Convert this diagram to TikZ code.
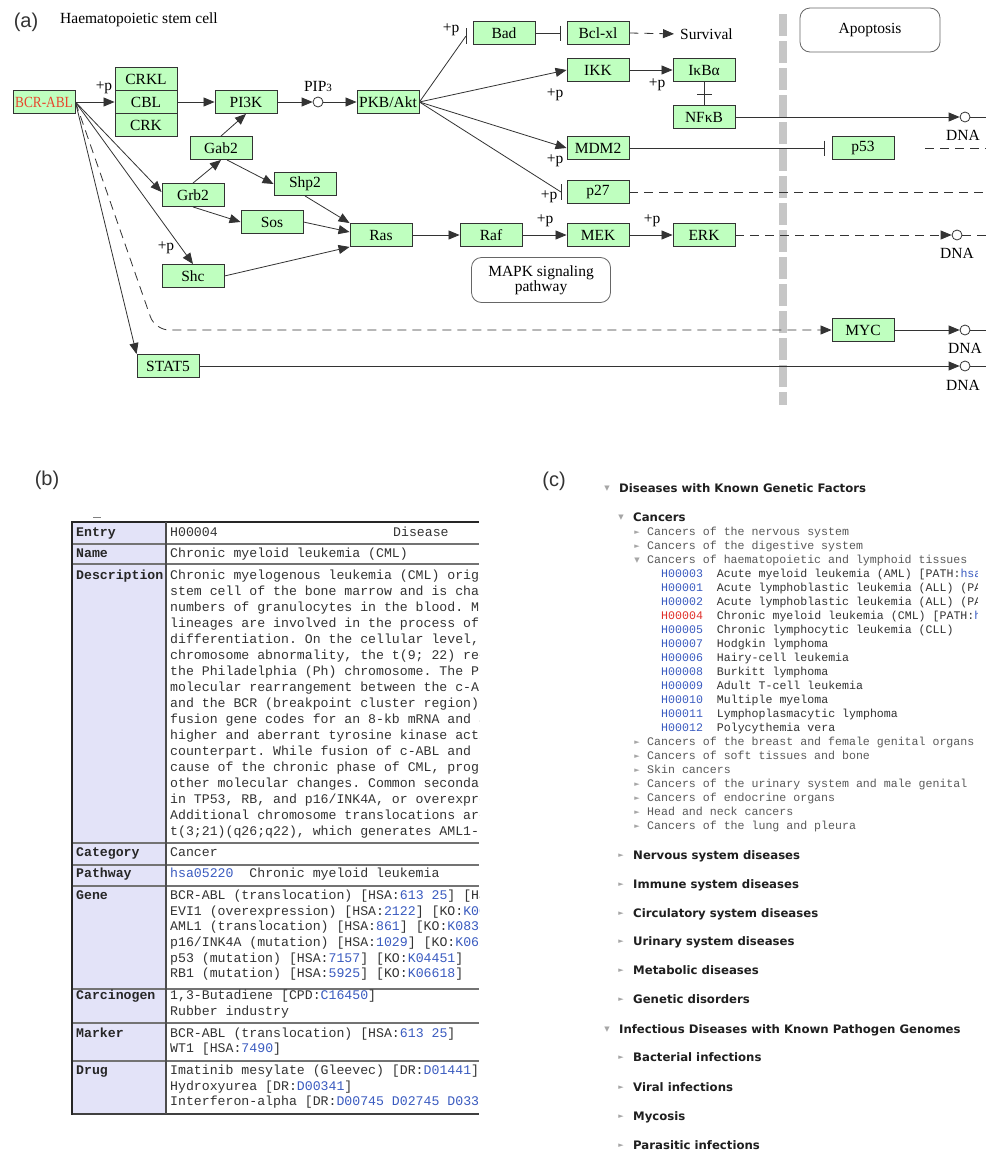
\documentclass[tikz,border=0pt]{standalone}
\usepackage{fontspec}
\usepackage{graphicx}
\usetikzlibrary{arrows.meta,calc}
\newfontfamily\keggfont{Liberation Serif}
\newfontfamily\panelfont{Liberation Sans}
\newfontfamily\monofont{Liberation Mono}
\newfontfamily\treefont{DejaVu Sans}
\definecolor{keggreen}{HTML}{BFFFBF}
\definecolor{linkblue}{HTML}{3A5BC0}
\definecolor{headfill}{HTML}{E3E3F8}
\definecolor{bargray}{HTML}{C6C6C6}
\definecolor{treegray}{HTML}{5A5A5A}
\definecolor{inkgray}{HTML}{333333}
\definecolor{bcrred}{HTML}{E8452C}
\definecolor{hitred}{HTML}{E0302A}
\newcommand\lk[1]{\textcolor{linkblue}{#1}}
\frenchspacing
\tikzset{
  gene/.style={draw=inkgray, fill=keggreen, line width=0.9pt, minimum width=62pt,
    minimum height=23pt, inner sep=0pt, font=\keggfont\fontsize{15.5}{17}\selectfont},
  link/.style={draw=inkgray, line width=0.8pt},
  act/.style={link, -{Triangle[length=11pt,width=9pt]}},
  inh/.style={link, -{Bar[width=15pt,line width=0.9pt]}},
  dlink/.style={dash pattern=on 9pt off 6pt},
  lbl/.style={inner sep=0pt, font=\keggfont\fontsize{15.5}{17}\selectfont},
  cpd/.style={circle, draw=inkgray, fill=white, line width=0.8pt, minimum size=10pt, inner sep=0pt},
  mapbox/.style={draw=gray!80!black, rounded corners=10pt, line width=0.8pt, align=center,
    font=\keggfont\fontsize{15.5}{14}\selectfont},
  panel/.style={inner sep=0pt, font=\panelfont\fontsize{20}{22}\selectfont, text=black!80},
  thd/.style={anchor=west, inner sep=0pt, font=\monofont\bfseries\fontsize{13.2}{15}\selectfont,
    text=black!85, text height=8pt, text depth=2.5pt},
  tcell/.style={anchor=west, inner sep=0pt, font=\monofont\fontsize{13.2}{15}\selectfont,
    text=black!80, text height=8pt, text depth=2.5pt},
  thead/.style={anchor=west, inner sep=0pt, font=\treefont\bfseries\fontsize{11.7}{13}\selectfont,
    text=black!88, text height=8.5pt, text depth=2.5pt},
  titem/.style={anchor=west, inner sep=0pt, font=\monofont\fontsize{11.6}{13}\selectfont,
    text=treegray, text height=7.5pt, text depth=2.5pt},
  tid/.style={titem, text=black!80},
  tmark/.style={inner sep=0pt, font=\treefont\fontsize{7}{7}\selectfont, text=gray!70},
}
\begin{document}
\begin{tikzpicture}[x=1pt,y=-1pt]
\fill[white] (0,0) rectangle (986,1151);
\useasboundingbox (0,0) rectangle (986,1151);

%% ================= Panel (a): CML pathway =================
\node[panel] (labA) at (26,22) {(a)};
\node[lbl, anchor=west] (cell) at (60,20) {Haematopoietic stem cell};

% cell boundary (nucleus side on the right)
\draw[bargray, line width=8pt, dash pattern=on 22pt off 5pt] (783,14) -- (783,405);

\node[mapbox, minimum width=140pt, minimum height=44pt] (apop) at (870,30) {Apoptosis};
\node[mapbox, minimum width=139pt, minimum height=45pt] (mapk) at (541,280) {MAPK signaling\\pathway};

% gene products
\node[gene] (bcr) at (44,102) {\textcolor{bcrred}{\scalebox{0.86}[1]{BCR-ABL}}};
\node[gene] (crkl) at (146,79) {CRKL};
\node[gene] (cbl) at (146,102) {CBL};
\node[gene] (crk) at (146,125) {CRK};
\node[gene] (pi3k) at (246,102) {PI3K};
\node[cpd] (pip) at (318,102) {};
\node[lbl] (piplbl) at (318,86) {PIP{\fontsize{11}{11}\selectfont 3}};
\node[gene] (pkb) at (388,102) {PKB/Akt};
\node[gene] (gab2) at (221,148) {Gab2};
\node[gene] (shp2) at (305,184) {Shp2};
\node[gene] (grb2) at (193,195) {Grb2};
\node[gene] (sos) at (272,222) {Sos};
\node[gene] (ras) at (381,235) {Ras};
\node[gene] (shc) at (193,276) {Shc};
\node[gene] (stat5) at (168,366) {STAT5};
\node[gene] (raf) at (491,235) {Raf};
\node[gene] (mek) at (598,235) {MEK};
\node[gene] (erk) at (704,235) {ERK};
\node[gene] (bad) at (504,33) {Bad};
\node[gene] (bcl) at (598,33) {Bcl-xl};
\node[lbl, anchor=west] (surv) at (680,34) {Survival};
\node[gene] (ikk) at (598,70) {IKK};
\node[gene] (ikba) at (704,70) {IκBα};
\node[gene] (nfkb) at (704,117) {NFκB};
\node[gene] (mdm2) at (598,148) {MDM2};
\node[gene] (p53) at (863,148) {p53};
\node[gene] (p27) at (598,192) {p27};
\node[gene] (myc) at (863,330) {MYC};

% DNA targets
\node[cpd] (dnaA) at (965,117) {};
\node[cpd] (dnaB) at (957,235) {};
\node[cpd] (dnaC) at (965,330) {};
\node[cpd] (dnaD) at (965,366) {};
\node[lbl] (dnaAl) at (963,135) {DNA};
\node[lbl] (dnaBl) at (957,253) {DNA};
\node[lbl] (dnaCl) at (965,348) {DNA};
\node[lbl] (dnaDl) at (963,385) {DNA};

% free ends at the right margin
\coordinate (eA) at (986,117);
\coordinate (eB) at (986,235);
\coordinate (eC) at (986,330);
\coordinate (eD) at (986,366);
\coordinate (e53) at (986,148);
\coordinate (s53) at (925,148);
\coordinate (e27) at (986,192);
\coordinate (badbar) at (466,36);
\coordinate (p27bar) at (561,192);
\coordinate (ikbabar) at (704,95);
\coordinate (mycbend) at (155,330);

% phosphorylation labels
\node[lbl] (pA) at (104,88) {+p};
\node[lbl] (pB) at (451,30) {+p};
\node[lbl] (pC) at (555,95) {+p};
\node[lbl] (pD) at (657,85) {+p};
\node[lbl] (pE) at (555,161) {+p};
\node[lbl] (pF) at (549,197) {+p};
\node[lbl] (pG) at (545,221) {+p};
\node[lbl] (pH) at (652,221) {+p};
\node[lbl] (pI) at (166,248) {+p};

% BCR-ABL outputs
\draw[act] (bcr.east) -- (cbl.west);
\draw[act] (bcr.east) -- ([yshift=3pt]grb2.west);
\draw[act] (bcr.east) -- (shc.north);
\draw[act] (bcr.east) -- (stat5.north west);
\draw[act, dlink, rounded corners=14pt] (bcr.east) -- (mycbend) -- (myc.west);

% PI3K branch
\draw[act] (cbl.east) -- (pi3k.west);
\draw[act] (pi3k.east) -- (pip.west);
\draw[act] (pip.east) -- (pkb.west);
\draw[act] (grb2.north) -- (gab2.south);
\draw[act] (gab2.north) -- (pi3k.south);
\draw[act] ([xshift=6pt]gab2.south) -- (shp2.west);

% Ras branch
\draw[act] (grb2.south) -- (sos.west);
\draw[act] (shp2.south) -- (ras.north west);
\draw[act] (sos.east) -- ([yshift=3pt]ras.west);
\draw[act] (shc.east) -- (ras.south west);
\draw[act] (ras.east) -- (raf.west);
\draw[act] (raf.east) -- (mek.west);
\draw[act] (mek.east) -- (erk.west);
\draw[act, dlink] (erk.east) -- (dnaB.west);
\draw[link, dlink] (dnaB.east) -- (eB);

% PKB/Akt targets
\draw[link] (pkb.east) -- (badbar);
\draw[link] ($(badbar)+(0,-8)$) -- ($(badbar)+(0,8)$);
\draw[inh, shorten >=6pt] (bad.east) -- (bcl.west);
\draw[act, dlink, shorten >=6pt] (bcl.east) -- (surv.west);
\draw[act] (pkb.east) -- (ikk.west);
\draw[act] (ikk.east) -- (ikba.west);
\draw[inh] (ikba.south) -- (ikbabar);
\draw[link] (ikbabar) -- (nfkb.north);
\draw[act] (nfkb.east) -- (dnaA.west);
\draw[link] (dnaA.east) -- (eA);
\draw[act] (pkb.east) -- (mdm2.west);
\draw[inh, shorten >=7pt] (mdm2.east) -- (p53.west);
\draw[link, dlink] (s53) -- (e53);
\draw[link] (pkb.east) -- (p27bar);
\draw[link] ($(p27bar)+(0,-8)$) -- ($(p27bar)+(0,8)$);
\draw[link, dlink] (p27.east) -- (e27);

% transcription targets
\draw[act] (myc.east) -- (dnaC.west);
\draw[link] (dnaC.east) -- (eC);
\draw[act] (stat5.east) -- (dnaD.west);
\draw[link] (dnaD.east) -- (eD);

%% ================= Panel (b): disease entry =================
\node[panel] (labB) at (47,480) {(b)};
\draw[gray, line width=1pt] (93,517) -- (101,517);
\begin{scope}
\clip (60,505) rectangle (479,1120);
\fill[headfill] (72,522) rectangle (166,1114);
\foreach \y in {544,564,843,865,886,989,1023,1061}
  \draw[black!55, line width=1.1pt] (72,\y) -- (479,\y);
\draw[black!85, line width=1.6pt] (72,522) -- (479,522);
\draw[black!75, line width=1.2pt] (72,1114) -- (479,1114);
\draw[black!85, line width=2pt] (72,521) -- (72,1115);
\draw[black!70, line width=1.2pt] (166,522) -- (166,1114);

\node[thd] (kEntry) at (76,534) {Entry};
\node[tcell] (vEntry) at (170,534) {H00004};
\node[tcell] (vKind) at (393,534) {Disease};
\node[thd] (kName) at (76,555) {Name};
\node[tcell] (vName) at (170,555) {Chronic myeloid leukemia (CML)};
\node[thd] (kDesc) at (76,577) {Description};
\foreach \t [count=\i from 0] in {
  {Chronic myelogenous leukemia (CML) origi},
  {stem cell of the bone marrow and is char},
  {numbers of granulocytes in the blood. Mu},
  {lineages are involved in the process of },
  {differentiation. On the cellular level, C},
  {chromosome abnormality, the t(9; 22) rec},
  {the Philadelphia (Ph) chromosome. The Ph},
  {molecular rearrangement between the c-AB},
  {and the BCR (breakpoint cluster region) },
  {fusion gene codes for an 8-kb mRNA and a},
  {higher and aberrant tyrosine kinase acti},
  {counterpart. While fusion of c-ABL and B},
  {cause of the chronic phase of CML, progr},
  {other molecular changes. Common secondar},
  {in TP53, RB, and p16/INK4A, or overexpre},
  {Additional chromosome translocations are},
  {t(3;21)(q26;q22), which generates AML1-E}}
  \node[tcell] (desc\i) at (170,{577+16*\i}) {\t};
\node[thd] (kCat) at (76,854) {Category};
\node[tcell] (vCat) at (170,854) {Cancer};
\node[thd] (kPath) at (76,875) {Pathway};
\node[tcell] (vPath) at (170,875) {\lk{hsa05220}~~Chronic myeloid leukemia};
\node[thd] (kGene) at (76,897) {Gene};
\node[tcell] (g0) at (170,897) {BCR-ABL (translocation) [HSA:\lk{613 25}] [HS};
\node[tcell] (g1) at (170,912.6) {EVI1 (overexpression) [HSA:\lk{2122}] [KO:\lk{K00}};
\node[tcell] (g2) at (170,928.2) {AML1 (translocation) [HSA:\lk{861}] [KO:\lk{K0838}};
\node[tcell] (g3) at (170,943.8) {p16/INK4A (mutation) [HSA:\lk{1029}] [KO:\lk{K062}};
\node[tcell] (g4) at (170,959.4) {p53 (mutation) [HSA:\lk{7157}] [KO:\lk{K04451}]};
\node[tcell] (g5) at (170,975) {RB1 (mutation) [HSA:\lk{5925}] [KO:\lk{K06618}]};
\node[thd] (kCarc) at (76,997) {Carcinogen};
\node[tcell] (c0) at (170,997) {1,3-Butadiene [CPD:\lk{C16450}]};
\node[tcell] (c1) at (170,1013) {Rubber industry};
\node[thd] (kMark) at (76,1035) {Marker};
\node[tcell] (m0) at (170,1035) {BCR-ABL (translocation) [HSA:\lk{613 25}]};
\node[tcell] (m1) at (170,1050) {WT1 [HSA:\lk{7490}]};
\node[thd] (kDrug) at (76,1072) {Drug};
\node[tcell] (d0) at (170,1072) {Imatinib mesylate (Gleevec) [DR:\lk{D01441}]};
\node[tcell] (d1) at (170,1088) {Hydroxyurea [DR:\lk{D00341}]};
\node[tcell] (d2) at (170,1103) {Interferon-alpha [DR:\lk{D00745 D02745 D0335}};
\end{scope}

%% ================= Panel (c): disease hierarchy =================
\node[panel] (labC) at (554,481) {(c)};
\begin{scope}
\clip (590,470) rectangle (977,1151);
\node[tmark] (x0) at (607,489) {▼};
\node[thead] (h0) at (619,489) {Diseases with Known Genetic Factors};
\node[tmark] (x1) at (621,518) {▼};
\node[thead] (h1) at (633,518) {Cancers};
\node[tmark] (x2) at (637,533) {►};
\node[titem] (i2) at (647,533) {Cancers of the nervous system};
\node[tmark] (x3) at (637,547) {►};
\node[titem] (i3) at (647,547) {Cancers of the digestive system};
\node[tmark] (x4) at (637,561) {▼};
\node[titem] (i4) at (647,561) {Cancers of haematopoietic and lymphoid tissues};
\node[tid] (r0) at (661,575) {\lk{H00003}~~Acute myeloid leukemia (AML) [PATH:\lk{hsa}};
\node[tid] (r1) at (661,589) {\lk{H00001}~~Acute lymphoblastic leukemia (ALL) (PA};
\node[tid] (r2) at (661,603) {\lk{H00002}~~Acute lymphoblastic leukemia (ALL) (PA};
\node[tid] (r3) at (661,617) {\textcolor{hitred}{H00004}~~Chronic myeloid leukemia (CML) [PATH:\lk{h}};
\node[tid] (r4) at (661,631) {\lk{H00005}~~Chronic lymphocytic leukemia (CLL)};
\node[tid] (r5) at (661,645) {\lk{H00007}~~Hodgkin lymphoma};
\node[tid] (r6) at (661,659) {\lk{H00006}~~Hairy-cell leukemia};
\node[tid] (r7) at (661,673) {\lk{H00008}~~Burkitt lymphoma};
\node[tid] (r8) at (661,687) {\lk{H00009}~~Adult T-cell leukemia};
\node[tid] (r9) at (661,701) {\lk{H00010}~~Multiple myeloma};
\node[tid] (r10) at (661,715) {\lk{H00011}~~Lymphoplasmacytic lymphoma};
\node[tid] (r11) at (661,729) {\lk{H00012}~~Polycythemia vera};
\foreach \t [count=\i from 0] in {
  Cancers of the breast and female genital organs,
  Cancers of soft tissues and bone,
  Skin cancers,
  Cancers of the urinary system and male genital,
  Cancers of endocrine organs,
  Head and neck cancers,
  Cancers of the lung and pleura}
{
  \node[tmark] (y\i) at (637,{743+14*\i}) {►};
  \node[titem] (j\i) at (647,{743+14*\i}) {\t};
}
\foreach \t/\y [count=\i from 0] in {
  Nervous system diseases/856,
  Immune system diseases/885,
  Circulatory system diseases/914,
  Urinary system diseases/942,
  Metabolic diseases/971,
  Genetic disorders/1000,
  Bacterial infections/1058,
  Viral infections/1088,
  Mycosis/1117,
  Parasitic infections/1146}
{
  \node[tmark] (z\i) at (621,\y) {►};
  \node[thead] (k\i) at (633,\y) {\t};
}
\node[tmark] (x5) at (607,1030) {▼};
\node[thead] (h5) at (619,1030) {Infectious Diseases with Known Pathogen Genomes};
\end{scope}
\end{tikzpicture}
\end{document}
